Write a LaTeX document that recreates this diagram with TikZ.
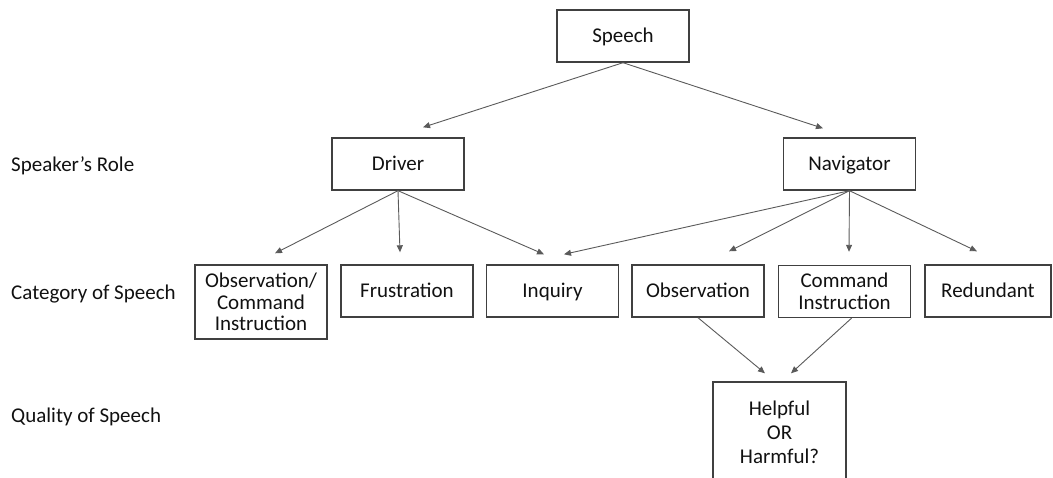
\documentclass[tikz,border=0pt]{standalone}
\usepackage{fontspec}
\setmainfont{Carlito}
\usetikzlibrary{arrows.meta}
\definecolor{boxline}{HTML}{404040}
\definecolor{arrowline}{HTML}{5A5A5A}
\definecolor{ink}{HTML}{111111}
\tikzset{
  box/.style={draw=boxline, line width=1.4pt, minimum width=132pt, minimum height=52pt,
    inner sep=0pt, align=center, text=ink, font=\fontsize{21}{21.5}\selectfont},
  onebox/.style={box, text height=15.5pt, text depth=3.5pt},
  tallbox/.style={box, minimum height=74pt},
  rowlabel/.style={anchor=west, inner sep=0pt, text=ink, text height=15.5pt, text depth=3.5pt,
    font=\fontsize{21}{24}\selectfont},
  link/.style={draw=arrowline, line width=0.9pt, -{Triangle[length=7pt,width=6pt]}}
}
\begin{document}
\begin{tikzpicture}[x=1pt,y=-1pt]
\useasboundingbox (0,0) rectangle (1053,477);
\clip (0,0) rectangle (1053,477);

% level labels
\node[rowlabel] (lrole) at (11,165) {Speaker’s Role};
\node[rowlabel] (lcat)  at (11,293) {Category of Speech};
\node[rowlabel] (lqual) at (11,416) {Quality of Speech};

% root and roles
\node[onebox] (speech) at (623,36) {Speech};
\node[onebox] (driver) at (398,164) {Driver};
\node[onebox] (nav) at (849.5,164) {Navigator};

% categories
\node[tallbox] (obscmd) at (261,302) {Observation/\\Command\\Instruction};
\node[onebox] (frus) at (407,291) {Frustration};
\node[onebox] (inq) at (552.5,291) {Inquiry};
\node[onebox] (obs) at (698,291) {Observation};
\node[box] (cmd) at (844.5,291.5) {Command\\Instruction};
\node[onebox, minimum width=126pt] (red) at (988,291) {Redundant};

% quality
\node[box, minimum width=133pt, minimum height=100pt, font=\fontsize{21}{24}\selectfont]
  (qual) at (779.5,432) {Helpful\\OR\\Harmful?};

% connectors
\draw[link] (speech.south) -- ([xshift=25pt,yshift=10pt]driver.north);
\draw[link] (speech.south) -- ([xshift=-26.5pt,yshift=9pt]nav.north);

\draw[link] (driver.south) -- ([xshift=14pt,yshift=11pt]obscmd.north);
\draw[link] (driver.south) -- ([xshift=-7pt,yshift=12pt]frus.north);
\draw[link] (driver.south) -- ([xshift=-8.5pt,yshift=10pt]inq.north);

\draw[link] (nav.south) -- ([xshift=11.5pt,yshift=10pt]inq.north);
\draw[link] (nav.south) -- ([xshift=31pt,yshift=13pt]obs.north);
\draw[link] (nav.south) -- ([xshift=4.5pt,yshift=13pt]cmd.north);
\draw[link] (nav.south) -- ([xshift=-11pt,yshift=13pt]red.north);

\draw[link] (obs.south) -- ([xshift=-14.5pt,yshift=8pt]qual.north);
\draw[link] ([xshift=7pt]cmd.south) -- ([xshift=11.5pt,yshift=8pt]qual.north);
\end{tikzpicture}
\end{document}
